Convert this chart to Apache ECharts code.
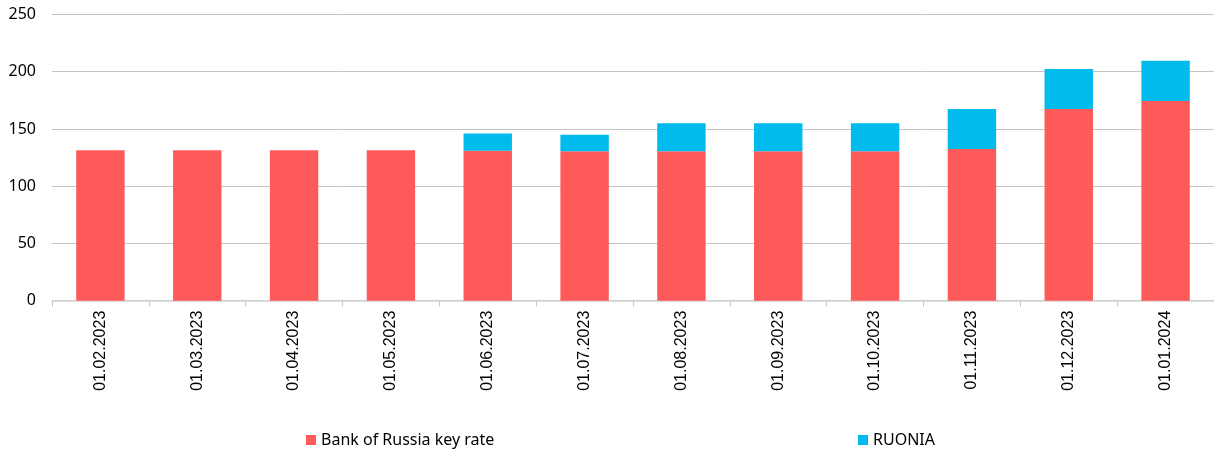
<!DOCTYPE html>
<html>
<head>
<meta charset="utf-8">
<script src="https://cdn.jsdelivr.net/npm/echarts@6/dist/echarts.min.js"></script>
<style>
  html, body { margin: 0; padding: 0; background: #fff; overflow: hidden; }
  #chart { width: 1214px; height: 452px; }
</style>
</head>
<body>
<div id="chart"></div>
<script>
const categories = ['01.02.2023', '01.03.2023', '01.04.2023', '01.05.2023', '01.06.2023', '01.07.2023',
  '01.08.2023', '01.09.2023', '01.10.2023', '01.11.2023', '01.12.2023', '01.01.2024']
const keyRate = [131.5, 131.5, 131.5, 131.5, 131, 130.5, 130.5, 130.5, 130.5, 132.5, 167.5, 174.5]
const ruonia = [0, 0, 0, 0, 15, 14.5, 24.5, 24.5, 24.5, 35, 35, 35]
const yTicks = [0, 50, 100, 150, 200, 250]

const chart = echarts.init(document.getElementById('chart'))

const legendText = {color: '#000', fontSize: 16, fontFamily: 'Noto Sans'}

chart.setOption({
  animation: false,
  grid: {left: 52, right: -7, top: 14.5, bottom: 151.3},
  legend: [
    {
      data: ['Bank of Russia key rate'], left: 301, top: 427,
      itemWidth: 10, itemHeight: 10, itemGap: 4, icon: 'rect', textStyle: legendText
    },
    {
      data: ['RUONIA'], left: 853, top: 427,
      itemWidth: 10, itemHeight: 10, itemGap: 4, icon: 'rect', textStyle: legendText
    }
  ],
  xAxis: {
    type: 'category',
    data: categories,
    axisLine: {lineStyle: {color: '#d4d4d4', width: 1.5}},
    axisTick: {show: true, length: 6, lineStyle: {color: '#c8c8c8'}},
    axisLabel: {rotate: 90, color: '#000', fontSize: 16, fontFamily: 'Liberation Sans', margin: 10}
  },
  yAxis: {
    type: 'value',
    min: yTicks[0],
    max: yTicks[yTicks.length - 1],
    interval: 50,
    axisLine: {show: false},
    axisTick: {show: false},
    axisLabel: {color: '#000', fontSize: 16, fontFamily: 'Noto Sans', margin: 16},
    splitLine: {lineStyle: {color: '#c4c4c4', width: 1}}
  },
  series: [
    {
      name: 'Bank of Russia key rate',
      type: 'bar',
      stack: 'total',
      barWidth: '50%',
      data: keyRate,
      itemStyle: {color: '#ff5a5a'}
    },
    {
      name: 'RUONIA',
      type: 'bar',
      stack: 'total',
      barWidth: '50%',
      data: ruonia,
      itemStyle: {color: '#00bbec'}
    }
  ]
})
</script>
</body>
</html>
